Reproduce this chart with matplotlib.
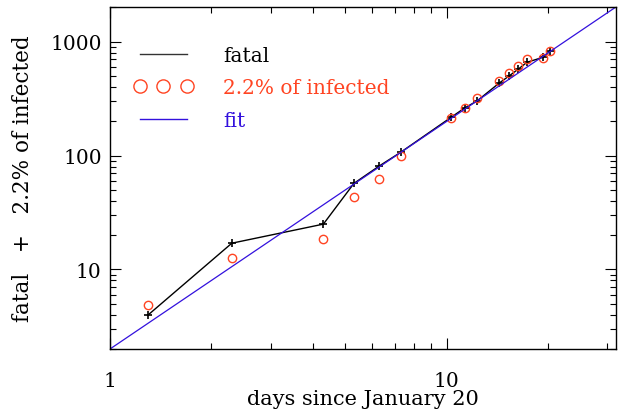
import matplotlib
matplotlib.use("Agg")
import matplotlib.pyplot as plt
from matplotlib.lines import Line2D
from matplotlib.ticker import LogLocator, NullFormatter, FixedLocator, FixedFormatter

days = [1.3, 2.3, 4.3, 5.3, 6.3, 7.3, 10.3, 11.3, 12.3, 14.3, 15.3, 16.3, 17.3, 19.3, 20.3]
fatal = [4, 17, 25, 57, 81, 107, 217, 262, 302, 433, 500, 575, 660, 730, 834]
infected_frac = [4.9, 12.7, 18.4, 43.5, 62, 99.6, 214, 260, 318, 454, 530, 615, 700, 720, 822]
fit_x = [1.0, 32.0]
fit_y = [2.0, 2048.0]

xticks = [1, 10]
xtick_labels = ["1", "10"]
yticks = [10, 100, 1000]
ytick_labels = ["10", "100", "1000"]
legend_labels = ["fatal", "2.2% of infected", "fit"]

plt.rcParams['font.family'] = ['DejaVu Serif']
fig = plt.figure(figsize=(6.18, 4.14), dpi=100)
ax = fig.add_axes([0.178, 0.1546, 0.8188, 0.8261])

red = "#ff4422"
blue = "#3311dd"

ax.plot(days, fatal, color="black", lw=1.0, marker="+", ms=6, mew=1.2)
ax.plot(days, infected_frac, ls="none", marker="o", ms=6, mfc="none", mec=red, mew=1.0)
ax.plot(fit_x, fit_y, color=blue, lw=0.9)

ax.set_xscale("log")
ax.set_yscale("log")
ax.set_xlim(1, 31.8)
ax.set_ylim(2, 2020)

ax.xaxis.set_major_locator(FixedLocator(xticks))
ax.xaxis.set_major_formatter(FixedFormatter(xtick_labels))
ax.xaxis.set_minor_locator(LogLocator(base=10, subs=range(2, 10)))
ax.xaxis.set_minor_formatter(NullFormatter())
ax.yaxis.set_major_locator(FixedLocator(yticks))
ax.yaxis.set_major_formatter(FixedFormatter(ytick_labels))
ax.yaxis.set_minor_locator(LogLocator(base=10, subs=range(2, 10)))
ax.yaxis.set_minor_formatter(NullFormatter())

ax.tick_params(which="both", direction="in", top=True, right=True, width=0.8, color="black")
ax.tick_params(which="major", length=8)
ax.tick_params(which="minor", length=4)
ax.tick_params(axis="x", which="major", pad=16, labelsize=14.5)
ax.tick_params(axis="y", which="major", pad=6, labelsize=14.5)
for s in ax.spines.values():
    s.set_linewidth(1.0)

ax.set_xlabel("days since January 20", fontsize=15, labelpad=-1)
ax.set_ylabel("fatal   +   2.2% of infected", fontsize=15.5, labelpad=12)

handles = [
    Line2D([], [], color="#333333", lw=1.0),
    Line2D([], [], ls="none", marker="o", ms=9.5, mfc="none", mec=red, mew=1.0),
    Line2D([], [], color=blue, lw=1.0),
]
leg = ax.legend(handles, legend_labels, loc="upper left", bbox_to_anchor=(0.012, 0.94),
                frameon=False, fontsize=14.5, numpoints=3, handlelength=2.9,
                handletextpad=1.5, labelspacing=0.67, borderaxespad=0.5)
for txt, c in zip(leg.get_texts(), ["black", red, blue]):
    txt.set_color(c)

fig.savefig("out.png", dpi=100)
